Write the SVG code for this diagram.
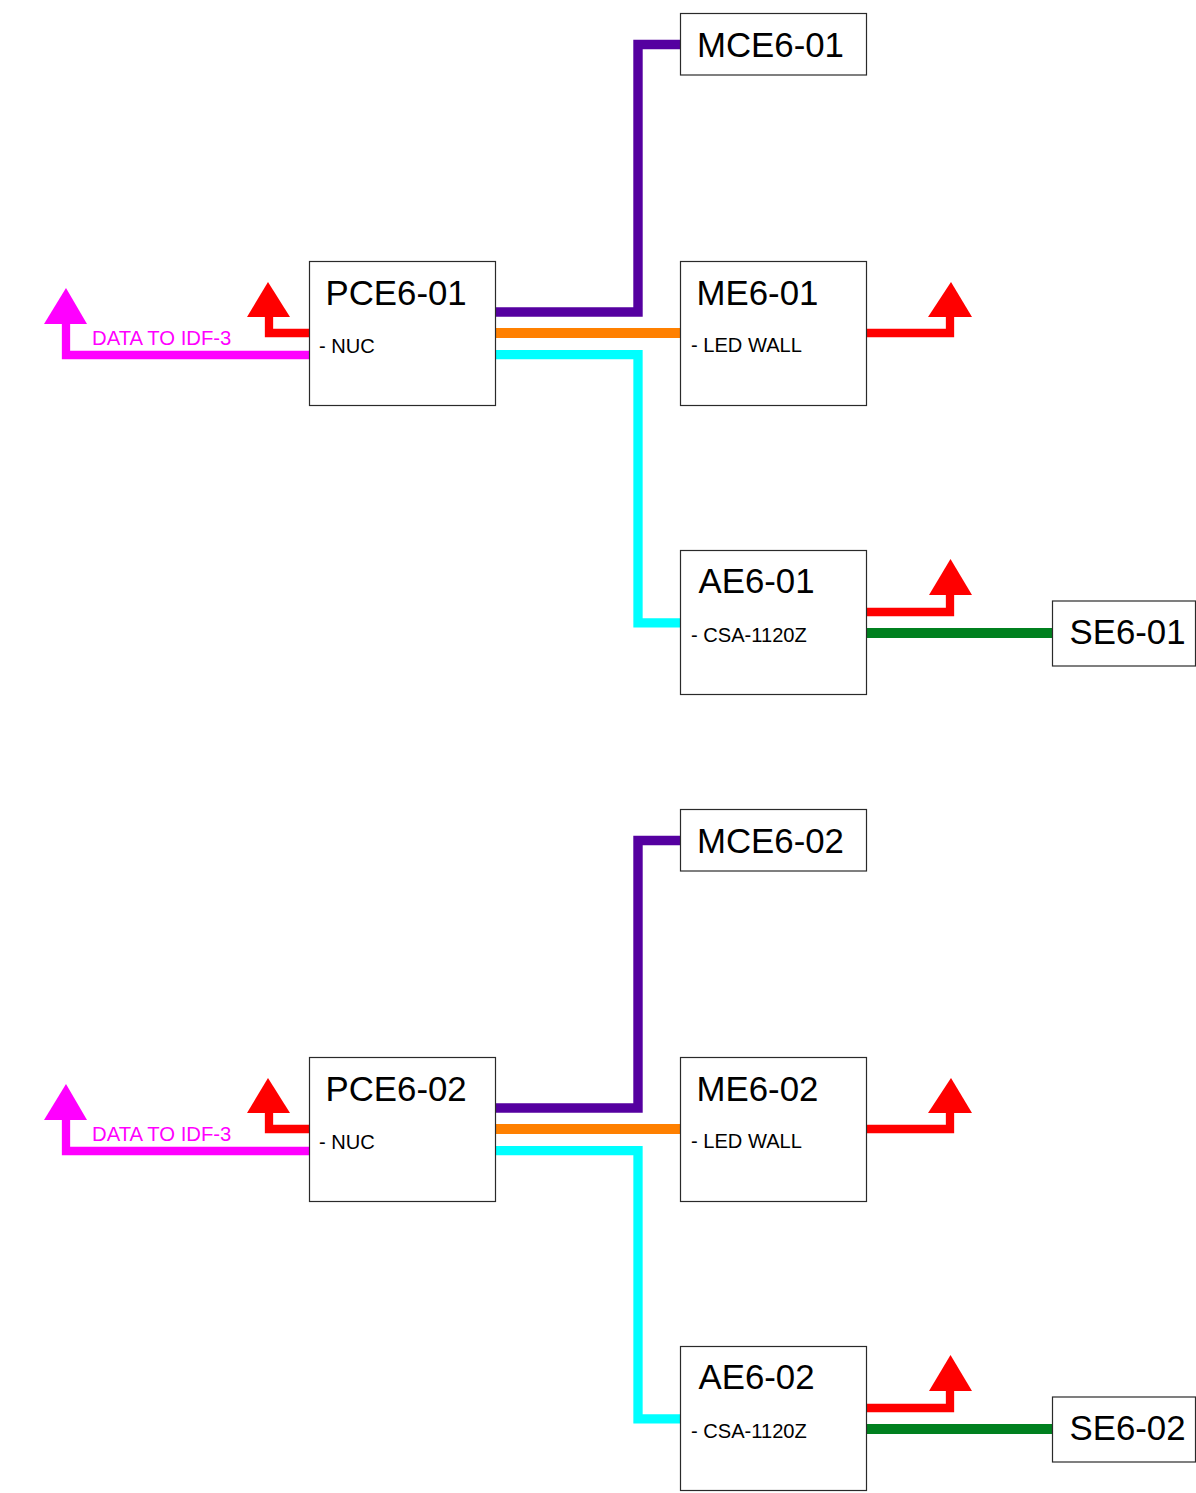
<svg xmlns="http://www.w3.org/2000/svg" width="1196" height="1493" viewBox="0 0 1196 1493">
<style>
.box{fill:#fff;stroke:#2a2a2a;stroke-width:1.2}
.t{font-family:"Liberation Sans",Arial,sans-serif;fill:#000}
.big{font-size:34.8px}
.sm{font-size:20.1px}
.lbl{font-family:"Liberation Sans",Arial,sans-serif;font-size:20.3px;fill:#ff00ff}
.c{fill:none;stroke-linejoin:miter;stroke-linecap:butt}
.pu{stroke:#5500a0;stroke-width:9.4}
.or{stroke:#ff8000;stroke-width:10}
.cy{stroke:#00ffff;stroke-width:9.3}
.rd{stroke:#ff0000;stroke-width:8.3}
.mg{stroke:#ff00ff;stroke-width:8.3}
.gr{stroke:#00801f;stroke-width:10}
.rh{fill:#ff0000}
.mh{fill:#ff00ff}
</style>
<rect width="1196" height="1493" fill="#fff"/>
<g id="connectors">
  <!-- section 1 -->
  <path class="c pu" d="M495,312 H638 V44.5 H680.5"/>
  <path class="c or" d="M495,333 H680.5"/>
  <path class="c cy" d="M495,354.7 H638 V622.8 H680.5"/>
  <path class="c rd" d="M309.5,333 H269 V314"/>
  <polygon class="rh" points="268,282 247,317 290,317"/>
  <path class="c mg" d="M309.5,355 H66 V321"/>
  <polygon class="mh" points="66,288 44,324 87,324"/>
  <path class="c rd" d="M866.5,333 H950 V314"/>
  <polygon class="rh" points="951,282 928,317 972,317"/>
  <path class="c rd" d="M866.5,612 H950 V592"/>
  <polygon class="rh" points="950.5,559 929,595 972,595"/>
  <path class="c gr" d="M866.5,633 H1052.5"/>
  <!-- section 2 -->
  <path class="c pu" d="M495,1108 H638 V840.5 H680.5"/>
  <path class="c or" d="M495,1129 H680.5"/>
  <path class="c cy" d="M495,1150.7 H638 V1418.8 H680.5"/>
  <path class="c rd" d="M309.5,1129 H269 V1110"/>
  <polygon class="rh" points="268,1078 247,1113 290,1113"/>
  <path class="c mg" d="M309.5,1151 H66 V1117"/>
  <polygon class="mh" points="66,1084 44,1120 87,1120"/>
  <path class="c rd" d="M866.5,1129 H950 V1110"/>
  <polygon class="rh" points="951,1078 928,1113 972,1113"/>
  <path class="c rd" d="M866.5,1408 H950 V1388"/>
  <polygon class="rh" points="950.5,1355 929,1391 972,1391"/>
  <path class="c gr" d="M866.5,1429 H1052.5"/>
</g>
<g id="label-idf3-1"><text class="lbl" x="92" y="345">DATA TO IDF-3</text></g>
<g id="label-idf3-2"><text class="lbl" x="92" y="1141">DATA TO IDF-3</text></g>

<g id="MCE6-01">
  <rect class="box" x="680.5" y="13.5" width="186" height="61.5"/>
  <text class="t big" x="697" y="57">MCE6-01</text>
</g>
<g id="PCE6-01">
  <rect class="box" x="309.5" y="261.5" width="186" height="144"/>
  <text class="t big" x="325.5" y="305">PCE6-01</text>
  <text class="t sm" x="319" y="353">- NUC</text>
</g>
<g id="ME6-01">
  <rect class="box" x="680.5" y="261.5" width="186" height="144"/>
  <text class="t big" x="696.5" y="305">ME6-01</text>
  <text class="t sm" x="691" y="352">- LED WALL</text>
</g>
<g id="AE6-01">
  <rect class="box" x="680.5" y="550.5" width="186" height="144"/>
  <text class="t big" x="698.5" y="593">AE6-01</text>
  <text class="t sm" x="691" y="642">- CSA-1120Z</text>
</g>
<g id="SE6-01">
  <rect class="box" x="1052.5" y="601" width="143" height="65"/>
  <text class="t big" x="1069.5" y="643.5">SE6-01</text>
</g>

<g id="MCE6-02">
  <rect class="box" x="680.5" y="809.5" width="186" height="61.5"/>
  <text class="t big" x="697" y="853">MCE6-02</text>
</g>
<g id="PCE6-02">
  <rect class="box" x="309.5" y="1057.5" width="186" height="144"/>
  <text class="t big" x="325.5" y="1101">PCE6-02</text>
  <text class="t sm" x="319" y="1149">- NUC</text>
</g>
<g id="ME6-02">
  <rect class="box" x="680.5" y="1057.5" width="186" height="144"/>
  <text class="t big" x="696.5" y="1101">ME6-02</text>
  <text class="t sm" x="691" y="1148">- LED WALL</text>
</g>
<g id="AE6-02">
  <rect class="box" x="680.5" y="1346.5" width="186" height="144"/>
  <text class="t big" x="698.5" y="1389">AE6-02</text>
  <text class="t sm" x="691" y="1438">- CSA-1120Z</text>
</g>
<g id="SE6-02">
  <rect class="box" x="1052.5" y="1397" width="143" height="65"/>
  <text class="t big" x="1069.5" y="1439.5">SE6-02</text>
</g>
</svg>
